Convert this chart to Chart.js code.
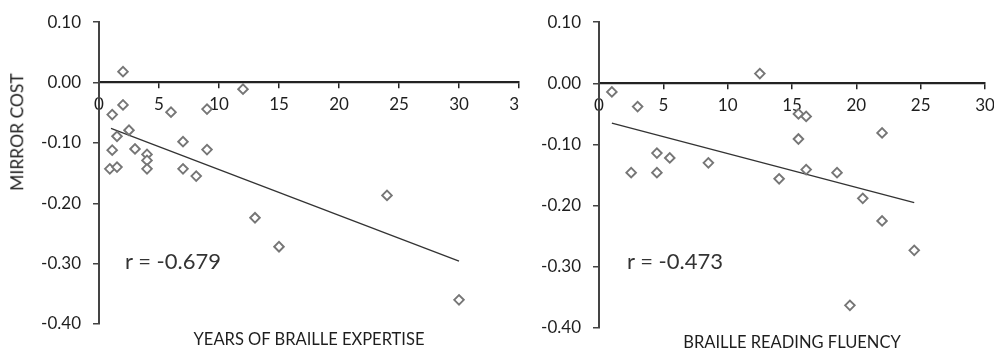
<!DOCTYPE html>
<html>
<head>
<meta charset="utf-8">
<script src="https://cdn.jsdelivr.net/npm/chart.js@4/dist/chart.umd.min.js"></script>
<style>
  html, body { margin: 0; padding: 0; background: #fff; overflow: hidden; }
  #wrap { position: relative; width: 994px; height: 352px; overflow: hidden; font-family: Lato, "Open Sans", sans-serif; color: #1e1e1e; }
  canvas { position: absolute; top: 0; background: #fff; }
  #leftChart { left: 0; }
  #rightChart { left: 520px; }
  .lbl { position: absolute; white-space: nowrap; line-height: 1; font-size: 16.5px; transform: translate(-50%, -50%); z-index: 2; }
  .r { position: absolute; white-space: nowrap; line-height: 1; font-size: 22px; color: #333; transform: translateY(-50%); z-index: 2; }
</style>
</head>
<body>
<div id="wrap">
  <canvas id="leftChart" width="540" height="352"></canvas>
  <canvas id="rightChart" width="500" height="352"></canvas>
  <div class="lbl" style="left:17px; top:132px; font-size:17.5px; transform: translate(-50%, -50%) rotate(-90deg);">MIRROR COST</div>
  <div class="lbl" style="left:309px; top:339px;">YEARS OF BRAILLE EXPERTISE</div>
  <div class="lbl" style="left:792px; top:342px;">BRAILLE READING FLUENCY</div>
  <div class="r" style="left:125px; top:261px;">r = -0.679</div>
  <div class="r" style="left:627px; top:261px;">r = -0.473</div>
</div>
<script>
// Data
const expertiseYears = [2, 2, 1.1, 6, 9, 12, 2.5, 1.5, 1.1, 3, 4, 4, 4, 0.9, 1.5, 7, 9, 7, 8.1, 13, 15, 24, 30];
const mirrorCostA = [0.018, -0.037, -0.053, -0.049, -0.044, -0.011, -0.079, -0.089, -0.112, -0.110, -0.119, -0.129, -0.143, -0.143, -0.140, -0.098, -0.111, -0.143, -0.155, -0.224, -0.272, -0.187, -0.360];
const trendAX = [1, 30];
const trendAY = [-0.076, -0.296];

const readingFluency = [1, 3, 4.5, 5.5, 8.5, 2.5, 4.5, 12.5, 15.5, 16.1, 15.5, 22, 16.1, 18.5, 14, 20.5, 22, 24.5, 19.5];
const mirrorCostB = [-0.014, -0.038, -0.114, -0.122, -0.130, -0.146, -0.146, 0.016, -0.050, -0.054, -0.091, -0.081, -0.141, -0.146, -0.156, -0.188, -0.225, -0.273, -0.363];
const trendBX = [1, 24.5];
const trendBY = [-0.065, -0.195];

const yTicks = [-0.4, -0.3, -0.2, -0.1, 0, 0.1];

const tickFont = { family: "Lato, 'Open Sans', sans-serif", size: 17 };
const toPoints = (xs, ys) => xs.map((x, i) => ({ x: x, y: ys[i] }));

// Build one scatter panel
const makeChart = (id, xs, ys, tx, ty, xMax, yWidth, pad) => {
  return new Chart(document.getElementById(id), {
    type: "scatter",
    data: {
      datasets: [
        {
          data: toPoints(xs, ys),
          pointStyle: "rectRot",
          pointRadius: 4.8,
          borderWidth: 1.9,
          borderColor: "#767676",
          backgroundColor: "#fff",
        },
        {
          data: toPoints(tx, ty),
          showLine: true,
          pointRadius: 0,
          borderColor: "#333",
          borderWidth: 1.3,
        },
      ],
    },
    options: {
      responsive: false,
      animation: false,
      layout: { padding: pad },
      plugins: { legend: { display: false }, tooltip: { enabled: false } },
      scales: {
        x: {
          type: "linear",
          position: { y: 0 },
          min: 0,
          max: xMax,
          ticks: { stepSize: 5, padding: 7, font: tickFont, color: "#1e1e1e" },
          grid: { drawOnChartArea: false, tickLength: 5, color: "#222", lineWidth: 1.5 },
          border: { color: "#222", width: 2.2 },
        },
        y: {
          min: -0.4,
          max: 0.1,
          afterBuildTicks: (s) => { s.ticks = yTicks.map((v) => ({ value: v })); },
          ticks: {
            padding: 12,
            font: tickFont,
            color: "#1e1e1e",
            callback: (v) => (Math.abs(v) < 1e-9 ? "0.00" : v.toFixed(2)),
          },
          grid: { drawOnChartArea: false, tickLength: 6, color: "#444", lineWidth: 1.5 },
          border: { color: "#444", width: 2 },
          afterFit: (s) => { s.width = yWidth; },
        },
      },
    },
  });
};

makeChart("leftChart", expertiseYears, mirrorCostA, trendAX, trendAY, 35, 99, { left: 0, right: 21, top: 15, bottom: 28 });
makeChart("rightChart", readingFluency, mirrorCostB, trendBX, trendBY, 30, 79, { left: 0, right: 35, top: 15, bottom: 24 });
</script>
</body>
</html>
